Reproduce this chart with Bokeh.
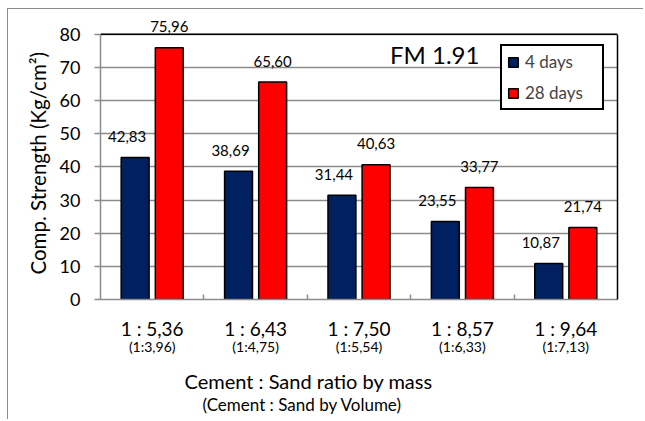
import numpy as np
from bokeh.plotting import figure
from bokeh.models import (ColumnDataSource, FixedTicker, LinearAxis, Range1d, Span,
                          Label, LabelSet, Legend, Title)
from bokeh.transform import dodge
from bokeh.core.properties import value
from bokeh.embed import file_html
from bokeh.resources import INLINE

# ---- data ----
categories = ["1 : 5,36", "1 : 6,43", "1 : 7,50", "1 : 8,57", "1 : 9,64"]
volume_ratios = ["(1:3,96)", "(1:4,75)", "(1:5,54)", "(1:6,33)", "(1:7,13)"]
days4 = [42.83, 38.69, 31.44, 23.55, 10.87]
days28 = [75.96, 65.60, 40.63, 33.77, 21.74]
y_ticks = [0, 10, 20, 30, 40, 50, 60, 70, 80]

FONT = "Lato"
GRID = "#8c8c8c"
NAVY = "#002060"
RED = "#ff0000"

pos = list(range(1, len(categories) + 1))
src = ColumnDataSource(dict(
    x=pos,
    d4=days4,
    d28=days28,
    t4=[f"{v:.2f}".replace(".", ",") for v in days4],
    t28=[f"{v:.2f}".replace(".", ",") for v in days28],
))

p = figure(width=636, height=411, output_backend="svg", toolbar_location=None,
           x_range=Range1d(0.5, 5.5), y_range=Range1d(0, 86.6),
           min_border_left=92, min_border_top=3, min_border_right=27,
           min_border_bottom=121, outline_line_color=None,
           styles={"margin-left": "7px", "margin-top": "8px",
                   "border-left": "1.5px solid #8c8c8c",
                   "border-top": "1.5px solid #8c8c8c"})

# bars
b4 = p.vbar(x=dodge("x", -0.165, range=p.x_range), top="d4", width=0.27, source=src,
            fill_color=NAVY, line_color="black", line_width=1.5)
b28 = p.vbar(x=dodge("x", 0.165, range=p.x_range), top="d28", width=0.27, source=src,
             fill_color=RED, line_color="black", line_width=1.5)

# value labels
p.add_layout(LabelSet(x=dodge("x", -0.165, range=p.x_range), y="d4", text="t4", source=src,
                      text_align="center", text_baseline="middle", y_offset=21, x_offset=-8,
                      text_font=value(FONT), text_font_size=value("15px"),
                      text_color="black"))
p.add_layout(LabelSet(x=dodge("x", 0.165, range=p.x_range), y="d28", text="t28", source=src,
                      text_align="center", text_baseline="middle", y_offset=21,
                      text_font=value(FONT), text_font_size=value("15px"),
                      text_color="black"))

# grid
p.xgrid.grid_line_color = None
p.ygrid.grid_line_color = GRID
p.ygrid.grid_line_width = 1.5
p.ygrid.ticker = FixedTicker(ticks=y_ticks)

# top frame line
p.add_layout(Span(location=80, dimension="width", line_color="black", line_width=1.5))

# right frame line as a bounded axis
ra = LinearAxis(ticker=FixedTicker(ticks=[]), bounds=(0, 80), axis_line_color="black",
                axis_line_width=1.5, major_tick_line_color=None,
                minor_tick_line_color=None, major_label_text_font_size="0px")
p.add_layout(ra, "right")

# y axis
ya = p.yaxis[0]
ya.bounds = (0, 80)
ya.ticker = FixedTicker(ticks=y_ticks)
ya.axis_line_color = GRID
ya.axis_line_width = 1.5
ya.major_tick_line_color = GRID
ya.major_tick_line_width = 1.5
ya.major_tick_out = 6
ya.major_tick_in = 0
ya.minor_tick_line_color = None
ya.major_label_text_font = FONT
ya.major_label_text_font_size = "18px"
ya.major_label_text_color = "black"
ya.major_label_standoff = 14

# y axis title (as a left title so it can be placed along the axis)
p.add_layout(Title(text="Comp. Strength (Kg/cm\u00b2)", align="left", offset=25,
                   text_font=FONT, text_font_size="20.5px", text_font_style="normal",
                   text_color="black", standoff=14), "left")

# x axis (main labels)
xa = p.xaxis[0]
xa.ticker = FixedTicker(ticks=pos, minor_ticks=[1.5, 2.5, 3.5, 4.5])
xa.major_label_overrides = {i: c for i, c in zip(pos, categories)}
xa.axis_line_color = GRID
xa.axis_line_width = 1.5
xa.major_tick_line_color = None
xa.major_tick_in = 0
xa.major_tick_out = 0
xa.minor_tick_line_color = GRID
xa.minor_tick_line_width = 1.5
xa.minor_tick_in = 5
xa.minor_tick_out = 0
xa.major_label_standoff = 17
xa.major_label_text_font = FONT
xa.major_label_text_font_size = "19px"
xa.major_label_text_color = "black"

# second x axis (volume ratios)
xa2 = LinearAxis(ticker=FixedTicker(ticks=pos),
                 major_label_overrides={i: v for i, v in zip(pos, volume_ratios)},
                 axis_line_color=None, major_tick_line_color=None,
                 minor_tick_line_color=None, major_tick_in=0, major_tick_out=0,
                 major_label_standoff=-5, major_label_text_font=FONT,
                 major_label_text_font_size="14px", major_label_text_color="black")
p.add_layout(xa2, "below")

# x axis titles
p.add_layout(Title(text="Cement : Sand ratio by mass", align="left", offset=84,
                   text_font=FONT, text_font_size="20px", text_font_style="normal",
                   text_color="black", standoff=18), "below")
p.add_layout(Title(text="(Cement : Sand by Volume)", align="left", offset=102,
                   text_font=FONT, text_font_size="17px", text_font_style="normal",
                   text_color="black", standoff=-20), "below")

# FM annotation
p.add_layout(Label(x=3.30, y=74, text="FM 1.91", text_align="left", text_baseline="middle",
                   text_font=FONT, text_font_size="24px", text_color="black"))

# legend
legend = Legend(items=[("4 days", [b4]), ("28 days", [b28])], location=(400, 189),
                padding=5, spacing=10, label_height=20, label_width=72, glyph_height=12,
                glyph_width=12, label_standoff=6, label_text_font=FONT,
                label_text_font_size="17px", border_line_color="black",
                border_line_alpha=1, border_line_width=2, background_fill_alpha=1)
p.add_layout(legend)

open("out.html", "w").write(file_html(p, INLINE))
